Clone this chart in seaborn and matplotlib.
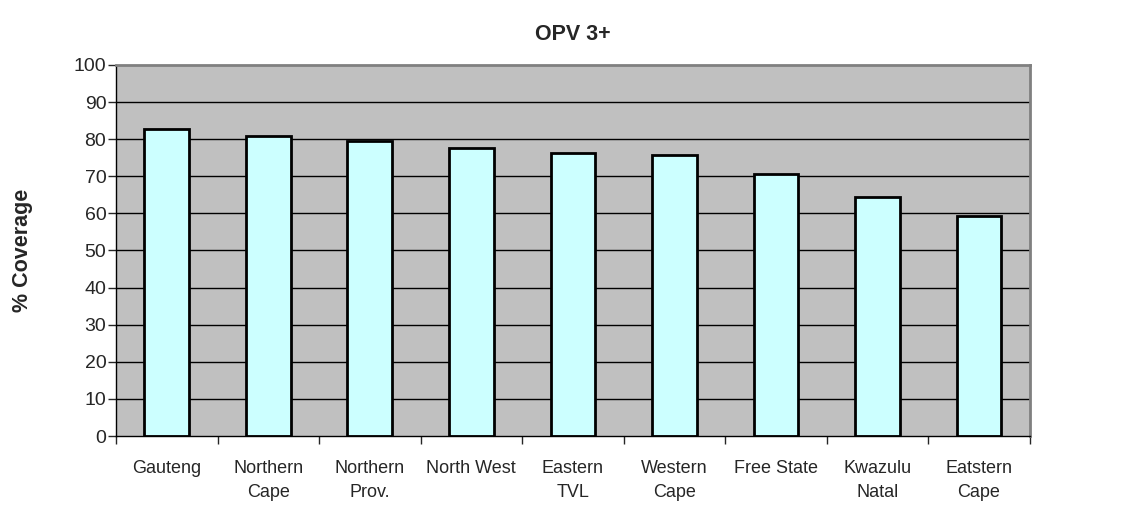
import numpy as np
import pandas as pd
import matplotlib
matplotlib.use("Agg")
import matplotlib.pyplot as plt
import seaborn as sns
from matplotlib.ticker import FixedLocator

regions = ["Gauteng", "Northern\nCape", "Northern\nProv.", "North West", "Eastern\nTVL",
           "Western\nCape", "Free State", "Kwazulu\nNatal", "Eatstern\nCape"]
coverage = [82.8, 80.9, 79.6, 77.6, 76.3, 75.6, 70.5, 64.4, 59.3]
y_ticks = list(range(0, 101, 10))

df = pd.DataFrame({"region": regions, "coverage": coverage})

sns.set_style("white")
plt.rcParams['font.family'] = ['Liberation Sans', 'DejaVu Sans']

fig = plt.figure(figsize=(11.23, 5.07), dpi=100)
ax = fig.add_axes([0.1033, 0.140, 0.8137, 0.732])
ax.set_facecolor("#C0C0C0")

# horizontal grid lines
for v in y_ticks[1:-1]:
    ax.axhline(v, color="black", lw=1, zorder=0.5)

sns.barplot(data=df, x="region", y="coverage", ax=ax, color="#CCFFFF", saturation=1,
            width=0.44, edgecolor="black", linewidth=2, zorder=2)

ax.set_ylim(0, 100)
ax.set_xlim(-0.5, len(regions) - 0.5)
ax.set_yticks(y_ticks)
ax.tick_params(axis="y", labelsize=14, length=6, width=1, direction="out", left=True, pad=1)
ax.set_xticks(range(len(regions)))
ax.set_xticklabels(regions, linespacing=1.55)
ax.tick_params(axis="x", which="major", length=0, labelsize=13, pad=17)
ax.xaxis.set_minor_locator(FixedLocator(np.arange(-0.5, len(regions), 1.0)))
ax.tick_params(axis="x", which="minor", length=6, width=1, direction="out", bottom=True)

for side in ["top", "right"]:
    ax.spines[side].set_color("#808080")
    ax.spines[side].set_linewidth(2)
for side in ["left", "bottom"]:
    ax.spines[side].set_color("black")
    ax.spines[side].set_linewidth(1)

ax.set_xlabel("")
ax.set_ylabel("% Coverage", fontsize=15.5, fontweight="bold", labelpad=29)
ax.set_title("OPV 3+", fontsize=15.5, fontweight="bold", pad=18)

fig.savefig("out.png", dpi=100)
